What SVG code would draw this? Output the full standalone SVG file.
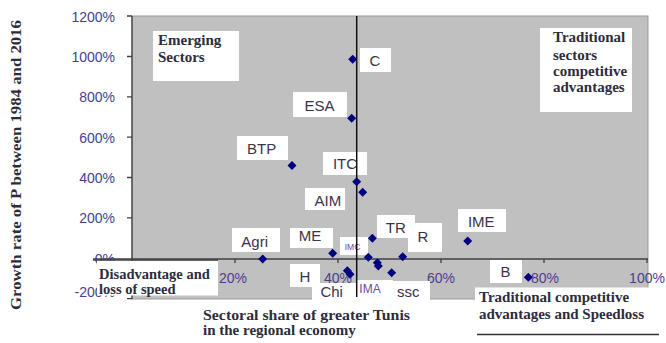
<svg xmlns="http://www.w3.org/2000/svg" width="666" height="343" viewBox="0 0 666 343">
<defs>
<style>
.tick{font-family:"Liberation Sans",Arial,sans-serif;font-size:14px;fill:#4b3d8f}
.lab{font-family:"Liberation Sans",Arial,sans-serif;font-size:15px;fill:#3b3348;text-anchor:middle}
.box{fill:#ffffff}
.ann{font-family:"Liberation Serif","Times New Roman",serif;font-weight:bold;font-size:15px;fill:#2c2c3c}
.pt{fill:#000080}
.ax{stroke:#404040;stroke-width:1.3;fill:none}
</style>
<path id="dia" d="M0,-4.5 L4.5,0 L0,4.5 L-4.5,0 Z"/>
</defs>
<rect width="666" height="343" fill="#ffffff"/>

<g id="plot">
<rect x="132" y="16" width="516" height="283" fill="#c0c0c0" stroke="#999999" stroke-width="1"/>
</g>

<g id="y-axis">
<line class="ax" x1="132" y1="16" x2="132" y2="299"/>
<path class="ax" d="M127,16H132M127,56.5H132M127,96.9H132M127,137.1H132M127,177.5H132M127,217.9H132M127,298.7H132"/>
<g class="tick" text-anchor="end">
<text x="115" y="21.5">1200%</text>
<text x="115" y="62">1000%</text>
<text x="115" y="102.4">800%</text>
<text x="115" y="142.6">600%</text>
<text x="115" y="183">400%</text>
<text x="115" y="223.4">200%</text>
<text x="115" y="264">0%</text>
<text x="115" y="297">-200%</text>
</g>
<text class="ann" transform="translate(21,165) rotate(-90)" text-anchor="middle" style="font-size:15.5px" textLength="290" lengthAdjust="spacingAndGlyphs">Growth rate of P between 1984 and 2016</text>
</g>

<g id="x-axis">
<g class="tick" text-anchor="middle">
<text x="233" y="282.5">20%</text>
<text x="338" y="282.5">40%</text>
<text x="441" y="282.5">60%</text>
<text x="545" y="282.5">80%</text>
<text x="647" y="282.5">100%</text>
</g>
<line class="ax" x1="93" y1="259" x2="648" y2="259" stroke-width="1.6"/>
<path class="ax" d="M235,259V263M338,259V263M441,259V263M544,259V263M647,259V263"/>
</g>

<g id="annotations">
<g id="emerging">
<rect class="box" x="153" y="31" width="86" height="50"/>
<text class="ann" x="158" y="45">Emerging</text>
<text class="ann" x="158" y="62">Sectors</text>
</g>
<g id="traditional-advantages">
<rect class="box" x="540" y="28" width="92" height="84"/>
<text class="ann" x="553" y="42">Traditional</text>
<text class="ann" x="553" y="59.5">sectors</text>
<text class="ann" x="553" y="76">competitive</text>
<text class="ann" x="553" y="92">advantages</text>
</g>
<g id="disadvantage">
<rect class="box" x="97" y="261" width="121" height="34.5"/>
<line class="ax" x1="93" y1="260" x2="218" y2="260"/>
<text class="ann" x="99" y="278.5" style="font-size:14.5px">Disadvantage and</text>
<text class="ann" x="99" y="293.5" style="font-size:14.5px">loss of speed</text>
</g>
<g id="sectoral-share">
<text class="ann" x="203" y="320" textLength="207" lengthAdjust="spacingAndGlyphs">Sectoral share of greater Tunis</text>
<text class="ann" x="203" y="335">in the regional economy</text>
</g>
<g id="traditional-speedloss">
<rect class="box" x="475" y="287.5" width="191" height="55.5"/>
<text class="ann" x="479" y="302">Traditional competitive</text>
<text class="ann" x="479" y="318.5">advantages and Speedloss</text>
<line x1="477" y1="334.5" x2="659" y2="334.5" stroke="#333333" stroke-width="1.5"/>
</g>
</g>

<g id="labels">
<g id="C"><rect class="box" x="360" y="48" width="31" height="24"/><text class="lab" x="375" y="66">C</text></g>
<g id="ESA"><rect class="box" x="293" y="92" width="54" height="25"/><text class="lab" x="319.5" y="110.7">ESA</text></g>
<g id="BTP"><rect class="box" x="237" y="136" width="51" height="24"/><text class="lab" x="261.7" y="154">BTP</text></g>
<g id="ITC"><rect class="box" x="323" y="152" width="44" height="23"/><text class="lab" x="345" y="169.3">ITC</text></g>
<g id="AIM"><rect class="box" x="305" y="188" width="40" height="22"/><text class="lab" x="327.8" y="205.7">AIM</text></g>
<g id="Agri"><rect class="box" x="232" y="228" width="48" height="24"/><text class="lab" x="254.7" y="246.7">Agri</text></g>
<g id="ME"><rect class="box" x="290" y="228" width="43" height="20"/><text class="lab" x="310" y="240.7">ME</text></g>
<g id="R"><rect class="box" x="408" y="223" width="34" height="29"/><text class="lab" x="423" y="241.7">R</text></g>
<g id="TR"><rect class="box" x="377" y="215" width="38" height="23"/><text class="lab" x="395.8" y="233.3">TR</text></g>
<g id="IMC"><rect class="box" x="340" y="237" width="28" height="18"/><text class="lab" x="352.5" y="250" style="font-size:8.5px;fill:#7a3a8a">IMC</text></g>
<g id="IME"><rect class="box" x="458" y="209" width="48" height="23"/><text class="lab" x="481.3" y="227.3">IME</text></g>
<g id="H"><rect class="box" x="290" y="264" width="30" height="23"/><text class="lab" x="305" y="281.7">H</text></g>
<g id="B"><rect class="box" x="490" y="260" width="32" height="23"/><text class="lab" x="505.5" y="277.3">B</text></g>
<g id="Chi"><rect class="box" x="312" y="283" width="45" height="17"/><text class="lab" x="331.7" y="297">Chi</text></g>
<g id="IMA"><rect class="box" x="357" y="280" width="36" height="20"/><text class="lab" x="370" y="293" style="font-size:12px;fill:#6a4a9a">IMA</text></g>
<g id="ssc"><rect class="box" x="392" y="281" width="38" height="20"/><text class="lab" x="408.3" y="296.7">ssc</text></g>
</g>

<g id="connectors">
<line x1="356.7" y1="16" x2="356.7" y2="297" stroke="#111111" stroke-width="1.5"/>
</g>

<g id="points">
<use href="#dia" class="pt" x="352.7" y="59.3"/>
<use href="#dia" class="pt" x="351.7" y="118.3"/>
<use href="#dia" class="pt" x="292" y="165.5"/>
<use href="#dia" class="pt" x="356.7" y="181.7"/>
<use href="#dia" class="pt" x="362.7" y="192.3"/>
<use href="#dia" class="pt" x="262.7" y="259"/>
<use href="#dia" class="pt" x="332.7" y="253.3"/>
<use href="#dia" class="pt" x="372.3" y="238.3"/>
<use href="#dia" class="pt" x="402.7" y="256.7"/>
<use href="#dia" class="pt" x="368.3" y="257.3"/>
<use href="#dia" class="pt" x="377.3" y="262.7"/>
<use href="#dia" class="pt" x="378.3" y="266"/>
<use href="#dia" class="pt" x="391.7" y="272.7"/>
<use href="#dia" class="pt" x="347.3" y="270.7"/>
<use href="#dia" class="pt" x="350" y="274.3"/>
<use href="#dia" class="pt" x="467.7" y="241"/>
<use href="#dia" class="pt" x="528.3" y="277.3"/>
</g>
</svg>
